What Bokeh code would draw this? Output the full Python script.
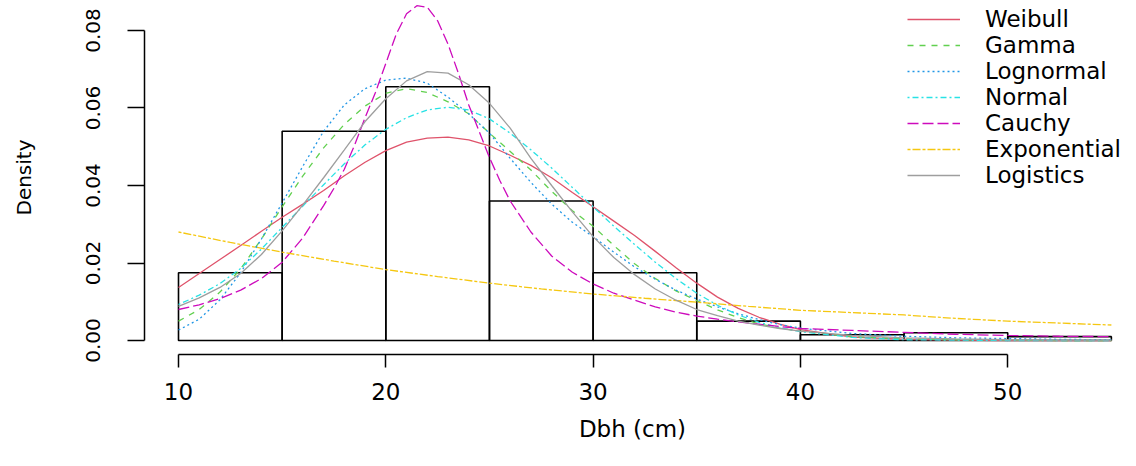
from bokeh.plotting import figure
from bokeh.models import FixedTicker, Legend, LegendItem, Range1d
from bokeh.embed import file_html
from bokeh.resources import INLINE

# ---- data ----
bin_edges = [10, 15, 20, 25, 30, 35, 40, 45, 50, 55]
hist_density = [0.0175, 0.054, 0.0655, 0.036, 0.0175, 0.005, 0.0015, 0.002, 0.001]

xs = [10, 11, 12, 13, 14, 15, 16, 17, 18, 19, 20, 21, 22, 23, 24, 25, 26, 27, 28, 29,
      30, 31, 32, 33, 34, 35, 36, 37, 38, 39, 40, 42.5, 45, 47.5, 50, 52.5, 55]

weibull = [0.0137, 0.0173, 0.0209, 0.0245, 0.0282, 0.0318, 0.0352, 0.0387, 0.0425, 0.0460,
           0.0490, 0.0512, 0.0522, 0.0525, 0.0518, 0.0502, 0.0478, 0.0452, 0.0420, 0.0382,
           0.0345, 0.0308, 0.0271, 0.0230, 0.0188, 0.0148, 0.0112, 0.0083, 0.0060, 0.0042,
           0.0028, 0.0009, 0.0003, 0.0001, 0.0, 0.0, 0.0]

gamma = [0.0050, 0.0080, 0.0125, 0.0185, 0.0262, 0.0345, 0.0425, 0.0497, 0.0558, 0.0605,
         0.0638, 0.0650, 0.0640, 0.0616, 0.0585, 0.0535, 0.0488, 0.0440, 0.0385, 0.0335,
         0.0295, 0.0245, 0.0198, 0.0160, 0.0128, 0.0103, 0.0079, 0.0059, 0.0043, 0.0032,
         0.0024, 0.0010, 0.0004, 0.0002, 0.0001, 0.0, 0.0]

lognormal = [0.0027, 0.0055, 0.0105, 0.0175, 0.0262, 0.0355, 0.0450, 0.0540, 0.0608, 0.0650,
             0.0672, 0.0677, 0.0664, 0.0628, 0.0585, 0.0535, 0.0470, 0.0408, 0.0352, 0.0305,
             0.0268, 0.0228, 0.0190, 0.0158, 0.0130, 0.0107, 0.0087, 0.0069, 0.0054, 0.0041,
             0.0032, 0.0018, 0.0011, 0.0007, 0.0005, 0.0003, 0.0002]

normal = [0.0093, 0.0117, 0.0147, 0.0186, 0.0236, 0.0292, 0.0347, 0.0402, 0.0456, 0.0505,
          0.0545, 0.0575, 0.0595, 0.0602, 0.0595, 0.0572, 0.0535, 0.0492, 0.0445, 0.0395,
          0.0345, 0.0295, 0.0248, 0.0202, 0.0160, 0.0122, 0.0091, 0.0066, 0.0047, 0.0033,
          0.0023, 0.0008, 0.0002, 0.0001, 0.0, 0.0, 0.0]

logistics = [0.0088, 0.0110, 0.0137, 0.0173, 0.0222, 0.0283, 0.0350, 0.0420, 0.0492, 0.0565,
             0.0624, 0.0670, 0.0694, 0.0690, 0.0660, 0.0612, 0.0548, 0.0470, 0.0400, 0.0332,
             0.0268, 0.0214, 0.0170, 0.0133, 0.0104, 0.0080, 0.0064, 0.0050, 0.0040, 0.0031,
             0.0024, 0.0013, 0.0007, 0.0004, 0.0002, 0.0001, 0.0001]

cauchy_x = [10, 11, 12, 13, 14, 15, 16, 17, 17.5, 18, 18.5, 19, 19.5, 20, 20.5, 21, 21.5, 22,
            22.5, 23, 23.5, 24, 24.5, 25, 25.5, 26, 27, 28, 29, 30, 31, 32, 33, 34, 35, 36,
            37, 38, 39, 40, 42.5, 45, 47.5, 50, 52.5, 55]
cauchy = [0.0080, 0.0092, 0.0108, 0.0130, 0.0160, 0.0202, 0.0265, 0.0348, 0.0393, 0.0442,
          0.0505, 0.0575, 0.0640, 0.0715, 0.0790, 0.0843, 0.0864, 0.0860, 0.0825, 0.0765,
          0.0690, 0.0608, 0.0540, 0.0472, 0.0413, 0.0360, 0.0280, 0.0218, 0.0176, 0.0146,
          0.0122, 0.0104, 0.0087, 0.0073, 0.0063, 0.0055, 0.0048, 0.0042, 0.0036, 0.0031,
          0.0026, 0.0021, 0.0016, 0.0013, 0.0011, 0.0010]

expo_x = [10, 12.5, 15, 17.5, 20, 22.5, 25, 27.5, 30, 32.5, 35, 37.5, 40, 42.5, 45, 47.5,
          50, 52.5, 55]
exponential = [0.0280, 0.0253, 0.0228, 0.0205, 0.0183, 0.0165, 0.0148, 0.0133, 0.0120,
               0.0109, 0.0099, 0.0088, 0.0078, 0.0072, 0.0066, 0.0057, 0.0050, 0.0045, 0.0040]

series_names = ["Weibull", "Gamma", "Lognormal", "Normal", "Cauchy", "Exponential", "Logistics"]
series_colors = ["#DF536B", "#61D04F", "#2297E6", "#28E2E5", "#CD0BBC", "#F5C710", "#9E9E9E"]
series_dashes = ["solid", "6 6", "2 3", "2 3 6 3", "11 4", "3 2 8 2", "solid"]

x_ticks = [10, 20, 30, 40, 50]
x_tick_labels = ["10", "20", "30", "40", "50"]
y_ticks = [0.0, 0.02, 0.04, 0.06, 0.08]
y_tick_labels = ["0.00", "0.02", "0.04", "0.06", "0.08"]
x_title = "Dbh (cm)"
y_title = "Density"

FONT = "DejaVu Sans"

p = figure(width=1120, height=450, output_backend="svg", toolbar_location=None,
           x_range=Range1d(8.36, 55.44), y_range=Range1d(-0.00361, 0.08774),
           min_border_left=144, min_border_right=0, min_border_top=0, min_border_bottom=96)
p.xgrid.visible = False
p.ygrid.visible = False
p.outline_line_color = None
p.background_fill_color = "white"
p.border_fill_color = "white"

# histogram
p.quad(left=bin_edges[:-1], right=bin_edges[1:], bottom=0, top=hist_density,
       fill_color=None, line_color="black", line_width=1.6)

curve_x = [xs, xs, xs, xs, cauchy_x, expo_x, xs]
curve_y = [weibull, gamma, lognormal, normal, cauchy, exponential, logistics]
renderers = []
for cx, cy, col, dash in zip(curve_x, curve_y, series_colors, series_dashes):
    r = p.line(cx, cy, line_color=col, line_width=1.3, line_dash=dash)
    renderers.append(r)

legend = Legend(items=[LegendItem(label=n, renderers=[r]) for n, r in zip(series_names, renderers)],
                location=(763, 166), label_text_font=FONT, label_text_font_size="23px",
                label_text_color="black", glyph_width=53, glyph_height=26, label_height=26,
                label_width=135, label_standoff=25, spacing=0, padding=0, margin=0,
                background_fill_alpha=0, border_line_alpha=0)
p.add_layout(legend)

# x axis
xa = p.xaxis[0]
xa.ticker = FixedTicker(ticks=x_ticks)
xa.major_label_overrides = dict(zip(x_ticks, x_tick_labels))
xa.bounds = (10, 50)
xa.axis_label = x_title
xa.axis_label_text_font = FONT
xa.axis_label_text_font_size = "23px"
xa.axis_label_text_font_style = "normal"
xa.axis_label_text_color = "black"
xa.axis_label_standoff = 13
xa.major_label_text_font = FONT
xa.major_label_text_font_size = "23px"
xa.major_label_text_color = "black"
xa.major_label_standoff = 15
xa.major_tick_in = 0
xa.major_tick_out = 13
xa.minor_tick_in = 0
xa.minor_tick_out = 0
xa.axis_line_width = 1.5
xa.major_tick_line_width = 1.5
xa.axis_line_color = "black"
xa.major_tick_line_color = "black"

# y axis
ya = p.yaxis[0]
ya.ticker = FixedTicker(ticks=y_ticks)
ya.major_label_overrides = dict(zip(y_ticks, y_tick_labels))
ya.bounds = (0, 0.08)
ya.axis_label = y_title
ya.axis_label_text_font = FONT
ya.axis_label_text_font_size = "20px"
ya.axis_label_text_font_style = "normal"
ya.axis_label_text_color = "black"
ya.axis_label_standoff = 48
ya.major_label_text_font = FONT
ya.major_label_text_font_size = "20px"
ya.major_label_text_color = "black"
ya.major_label_orientation = "vertical"
ya.major_label_standoff = 27
ya.major_tick_in = 0
ya.major_tick_out = 17
ya.minor_tick_in = 0
ya.minor_tick_out = 0
ya.axis_line_width = 1.5
ya.major_tick_line_width = 1.5
ya.axis_line_color = "black"
ya.major_tick_line_color = "black"

open("out.html", "w").write(file_html(p, INLINE))
